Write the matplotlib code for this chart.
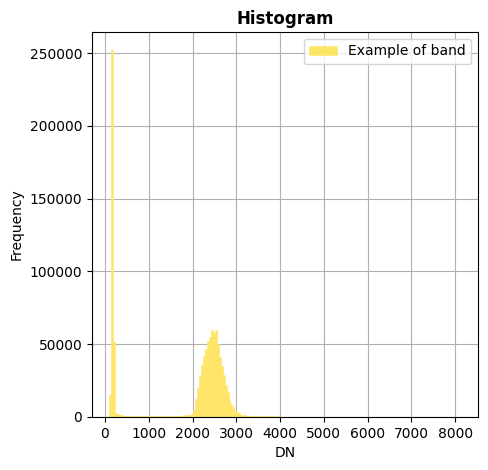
import numpy as np
import matplotlib
matplotlib.use("Agg")
import matplotlib.pyplot as plt

dn_min, dn_max, n_bins = 104, 8125, 180
low_counts = [15000, 252000, 51500, 3000, 2000, 1500, 1100, 900, 800, 750,
              700, 650, 600, 600, 550, 550, 500, 500, 500, 480,
              480, 480, 480, 480, 480, 480, 500, 500, 520, 550,
              550, 600, 600, 650, 700, 750, 800, 900, 1000, 1100,
              1200, 1400,
              1800, 5000, 12000, 20000, 29000, 36000, 42000, 47000, 52000, 55000,
              59500, 57600, 59500, 50000, 41000, 35000, 29000, 22000, 17000, 12000,
              9000, 6500, 4500, 3300, 2400, 1600, 1200, 1000, 800, 700,
              650, 600, 550, 500, 480, 450, 420, 400, 380, 360,
              340, 320, 300, 300, 280, 260, 240, 220, 200, 150, 100]
counts = np.zeros(n_bins)
counts[:len(low_counts)] = low_counts
counts[-1] = 1

edges = np.linspace(dn_min, dn_max, n_bins + 1)
centers = (edges[:-1] + edges[1:]) / 2

fig, ax = plt.subplots(figsize=(4.89, 4.7), dpi=100)
fig.subplots_adjust(left=0.188, right=0.978, top=0.932, bottom=0.113)
ax.hist(centers, bins=edges, weights=counts, color='#FFE566', edgecolor='#FFE566',
        linewidth=0.4, label='Example of band', zorder=2)
ax.grid(True, color='#b0b0b0', zorder=0)
ax.set_axisbelow(True)
ax.set_title('Histogram', fontweight='bold')
ax.set_xlabel('DN')
ax.set_ylabel('Frequency')
ax.legend(loc='upper right')
fig.savefig('out.png')
